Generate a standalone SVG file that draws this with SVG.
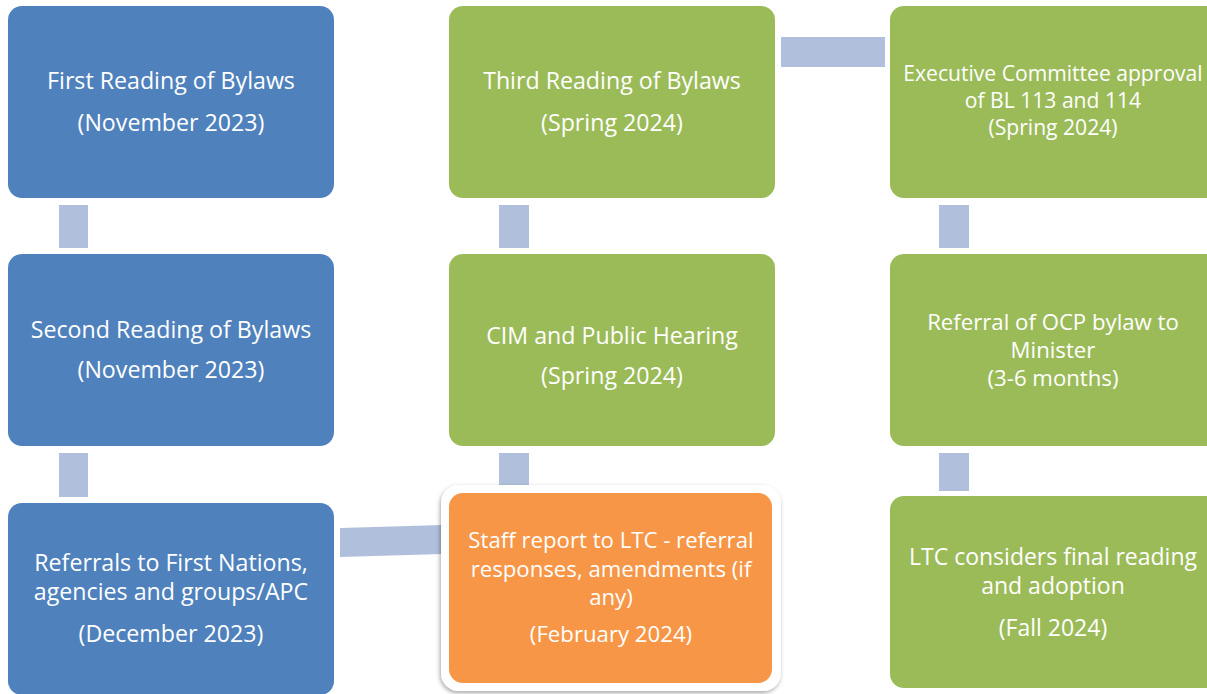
<svg xmlns="http://www.w3.org/2000/svg" width="1207" height="694" viewBox="0 0 1207 694">
<defs>
<style>
.blue{fill:#4F81BD}
.green{fill:#9BBB59}
.orange{fill:#F79646}
.conn{fill:#B0C0DC}
text{font-family:"Open Sans","Noto Sans","Liberation Sans",sans-serif;font-size:23.2px;fill:#FFFFFF;text-anchor:middle}
.s21{font-size:21.1px}
.s22{font-size:22.2px}
.s23{font-size:23px}
</style>
<filter id="sh" x="-10%" y="-10%" width="120%" height="120%">
<feDropShadow dx="-1" dy="2" stdDeviation="2" flood-color="#000" flood-opacity="0.35"/>
</filter>
</defs>
<rect width="1207" height="694" fill="#FFFFFF"/>
<g id="connectors">
<rect class="conn" x="59" y="205" width="29" height="43"/>
<rect class="conn" x="59" y="453" width="29" height="44"/>
<rect class="conn" x="499" y="205" width="30" height="43"/>
<rect class="conn" x="499" y="453" width="30" height="33"/>
<rect class="conn" x="939" y="205" width="30" height="43"/>
<rect class="conn" x="939" y="453" width="30" height="38"/>
<rect class="conn" x="781" y="37" width="104" height="30"/>
<polygon class="conn" points="340,528 443,525 443,554 340,557"/>
</g>
<g id="n1">
<rect class="blue" x="8" y="6" width="326" height="192" rx="14"/>
<text x="171" y="89">First Reading of Bylaws</text>
<text x="171" y="131">(November 2023)</text>
</g>
<g id="n2">
<rect class="blue" x="8" y="254" width="326" height="192" rx="14"/>
<text x="171" y="338">Second Reading of Bylaws</text>
<text x="171" y="378">(November 2023)</text>
</g>
<g id="n3">
<rect class="blue" x="8" y="503" width="326" height="192" rx="14"/>
<text x="171" y="571">Referrals to First Nations,</text>
<text x="171" y="600">agencies and groups/APC</text>
<text x="171" y="642">(December 2023)</text>
</g>
<g id="n4">
<rect x="441" y="485" width="340" height="206" rx="18" fill="#FFFFFF" filter="url(#sh)"/>
<rect class="orange" x="449" y="493" width="323" height="190" rx="14"/>
<text class="s22" x="611" y="548">Staff report to LTC - referral</text>
<text class="s22" x="611" y="577">responses, amendments (if</text>
<text class="s22" x="611" y="605">any)</text>
<text class="s22" x="611" y="642">(February 2024)</text>
</g>
<g id="n5">
<rect class="green" x="449" y="254" width="326" height="192" rx="14"/>
<text x="612" y="344">CIM and Public Hearing</text>
<text x="612" y="384">(Spring 2024)</text>
</g>
<g id="n6">
<rect class="green" x="449" y="6" width="326" height="192" rx="14"/>
<text x="612" y="89">Third Reading of Bylaws</text>
<text x="612" y="131">(Spring 2024)</text>
</g>
<g id="n7">
<rect class="green" x="890" y="6" width="330" height="192" rx="14"/>
<text class="s21" x="1053" y="81">Executive Committee approval</text>
<text class="s21" x="1053" y="108">of BL 113 and 114</text>
<text class="s21" x="1053" y="135">(Spring 2024)</text>
</g>
<g id="n8">
<rect class="green" x="890" y="254" width="330" height="192" rx="14"/>
<text class="s22" x="1053" y="330">Referral of OCP bylaw to</text>
<text class="s22" x="1053" y="358">Minister</text>
<text class="s22" x="1053" y="386">(3-6 months)</text>
</g>
<g id="n9">
<rect class="green" x="890" y="496" width="330" height="192" rx="14"/>
<text class="s23" x="1053" y="565">LTC considers final reading</text>
<text class="s23" x="1053" y="594">and adoption</text>
<text class="s23" x="1053" y="636">(Fall 2024)</text>
</g>
</svg>
